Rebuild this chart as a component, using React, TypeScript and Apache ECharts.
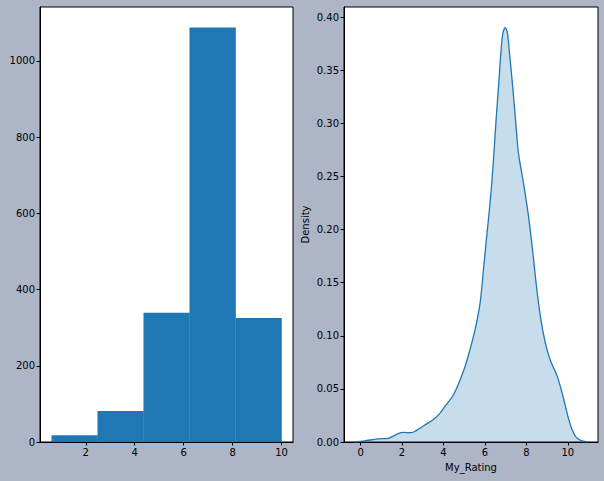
import React, { useEffect, useRef } from "react";
import * as echarts from "echarts";

// Histogram (left)
const binEdges = [0.6, 2.48, 4.36, 6.24, 8.12, 10.0];
const binCounts = [18, 81, 339, 1087, 325];
const histYTicks = [0, 200, 400, 600, 800, 1000];
const histXTicks = [2, 4, 6, 8, 10];

// KDE (right)
const kdeX = [-0.29, 0.19, 0.84, 1.33, 1.81, 2.05, 2.46, 2.7, 3.1, 3.5, 3.83, 4.07, 4.5, 4.99, 5.28, 5.53, 5.77, 5.93, 6.09, 6.25, 6.38, 6.54, 6.66, 6.77, 6.87, 6.98, 7.09, 7.19, 7.34, 7.48, 7.62, 7.87, 8.11, 8.3, 8.47, 8.68, 8.92, 9.16, 9.49, 9.73, 9.89, 10.05, 10.21, 10.37, 10.62, 10.94];
const kdeY = [0, 0.001, 0.003, 0.0034, 0.0078, 0.009, 0.0088, 0.011, 0.016, 0.021, 0.027, 0.0335, 0.045, 0.068, 0.087, 0.106, 0.131, 0.162, 0.194, 0.225, 0.256, 0.303, 0.335, 0.366, 0.385, 0.39, 0.385, 0.366, 0.335, 0.303, 0.272, 0.243, 0.212, 0.181, 0.15, 0.118, 0.093, 0.077, 0.062, 0.046, 0.0335, 0.021, 0.0116, 0.0053, 0.0015, 0];
const kdeYTicks = [0, 0.05, 0.1, 0.15, 0.2, 0.25, 0.3, 0.35, 0.4];
const kdeXTicks = [0, 2, 4, 6, 8, 10];
const xLabel = "My_Rating";
const yLabel = "Density";

const BLUE = "#1f77b4";
const FONT = "DejaVu Sans";

export default function App() {
  const ref = useRef<HTMLDivElement>(null);
  useEffect(() => {
    if (!ref.current) return;
    const chart = echarts.init(ref.current, null, { renderer: "svg" });
    const axisCommon = {
      axisLine: { show: true, onZero: false, lineStyle: { color: "#000", width: 1 } },
      axisTick: { show: true, inside: false, length: 3.5, lineStyle: { color: "#000", width: 1 } },
      splitLine: { show: false },
    };
    const labelStyle = { color: "#000", fontFamily: FONT, fontSize: 10 };
    const histData = binCounts.map((c, i) => [binEdges[i], binEdges[i + 1], c]);
    chart.setOption({
      animation: false,
      backgroundColor: "#adb5c6",
      grid: [
        { left: 40, top: 7, width: 253, height: 435, show: true, backgroundColor: "#fff", borderColor: "#000", borderWidth: 1 },
        { left: 344, top: 7, width: 254, height: 435, show: true, backgroundColor: "#fff", borderColor: "#000", borderWidth: 1 },
      ],
      xAxis: [
        {
          ...axisCommon,
          type: "value",
          gridIndex: 0,
          min: 0.13,
          max: 10.47,
          axisTick: { ...axisCommon.axisTick, customValues: histXTicks },
          axisLabel: { ...labelStyle, margin: 5, customValues: histXTicks, formatter: (v: number) => String(v) },
        },
        {
          ...axisCommon,
          type: "value",
          gridIndex: 1,
          min: -0.8,
          max: 11.46,
          name: xLabel,
          nameLocation: "middle",
          nameGap: 20,
          nameTextStyle: { ...labelStyle, verticalAlign: "top" },
          axisTick: { ...axisCommon.axisTick, customValues: kdeXTicks },
          axisLabel: { ...labelStyle, margin: 5, customValues: kdeXTicks, formatter: (v: number) => String(v) },
        },
      ],
      yAxis: [
        {
          ...axisCommon,
          type: "value",
          gridIndex: 0,
          min: 0,
          max: 1141,
          axisTick: { ...axisCommon.axisTick, customValues: histYTicks },
          axisLabel: { ...labelStyle, margin: 5, customValues: histYTicks, formatter: (v: number) => String(v) },
        },
        {
          ...axisCommon,
          type: "value",
          gridIndex: 1,
          min: 0,
          max: 0.4095,
          name: yLabel,
          nameLocation: "middle",
          nameGap: 34,
          nameTextStyle: { ...labelStyle },
          axisTick: { ...axisCommon.axisTick, customValues: kdeYTicks },
          axisLabel: {
            ...labelStyle,
            margin: 5,
            customValues: kdeYTicks,
            formatter: (v: number) => v.toFixed(2),
          },
        },
      ],
      series: [
        {
          type: "custom",
          xAxisIndex: 0,
          yAxisIndex: 0,
          data: histData,
          encode: { x: [0, 1], y: 2 },
          renderItem: (params: any, api: any) => {
            const x0 = api.value(0);
            const x1 = api.value(1);
            const h = api.value(2);
            const p0 = api.coord([x0, h]);
            const p1 = api.coord([x1, 0]);
            return {
              type: "rect",
              shape: { x: p0[0], y: p0[1], width: p1[0] - p0[0] + 0.3, height: p1[1] - p0[1] },
              style: { fill: BLUE },
            };
          },
        },
        {
          type: "line",
          xAxisIndex: 1,
          yAxisIndex: 1,
          data: kdeX.map((x, i) => [x, kdeY[i]]),
          smooth: 0.3,
          showSymbol: false,
          symbol: "none",
          lineStyle: { color: BLUE, width: 1.3 },
          areaStyle: { color: "rgba(31,119,180,0.25)", opacity: 1, origin: "start" },
        },
      ],
    });
    return () => chart.dispose();
  }, []);
  return <div ref={ref} style={{ position: "fixed", left: 0, top: 0, width: 604, height: 481 }} />;
}
